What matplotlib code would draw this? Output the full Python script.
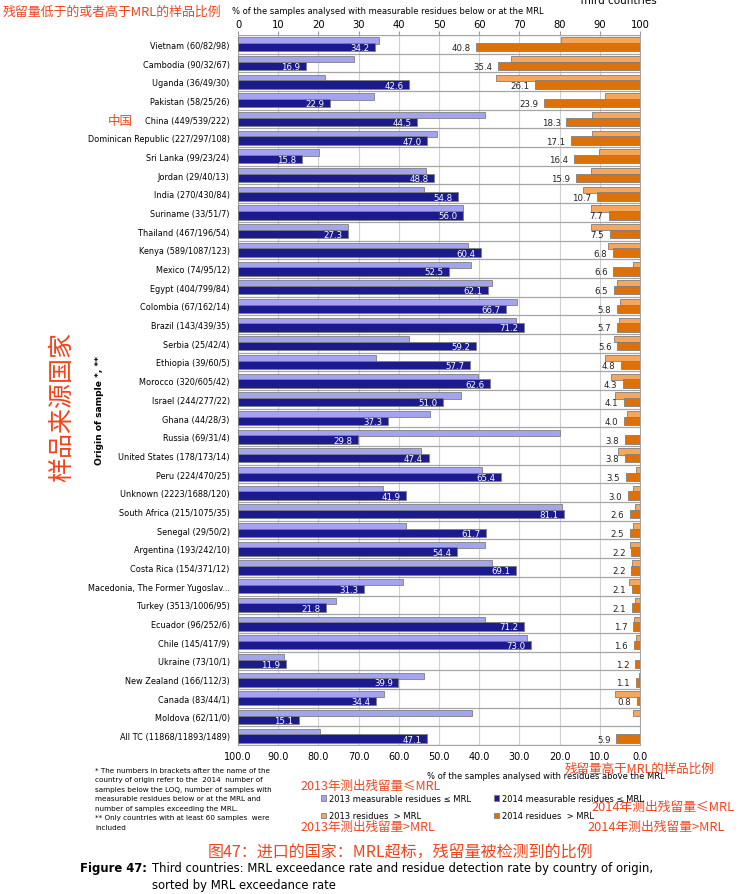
import numpy as np
import matplotlib.pyplot as plt
from matplotlib.ticker import FormatStrFormatter

LIGHT_BLUE = '#a3a3f0'
DARK_BLUE = '#1b1b8f'
LIGHT_ORANGE = '#f7a75c'
DARK_ORANGE = '#de7008'
BAR_EDGE = '#7f7f7f'
GRID_H = '#a6a6a6'
GRID_V = '#cfcfcf'
RED = '#f2441d'
CJK = ['Noto Sans CJK SC', 'DejaVu Sans']

countries = [
    'Vietnam (60/82/98)', 'Cambodia (90/32/67)', 'Uganda (36/49/30)',
    'Pakistan (58/25/26)', 'China (449/539/222)',
    'Dominican Republic (227/297/108)', 'Sri Lanka (99/23/24)',
    'Jordan (29/40/13)', 'India (270/430/84)', 'Suriname (33/51/7)',
    'Thailand (467/196/54)', 'Kenya (589/1087/123)', 'Mexico (74/95/12)',
    'Egypt (404/799/84)', 'Colombia (67/162/14)', 'Brazil (143/439/35)',
    'Serbia (25/42/4)', 'Ethiopia (39/60/5)', 'Morocco (320/605/42)',
    'Israel (244/277/22)', 'Ghana (44/28/3)', 'Russia (69/31/4)',
    'United States (178/173/14)', 'Peru (224/470/25)',
    'Unknown (2223/1688/120)', 'South Africa (215/1075/35)',
    'Senegal (29/50/2)', 'Argentina (193/242/10)', 'Costa Rica (154/371/12)',
    'Macedonia, The Former Yugoslav...', 'Turkey (3513/1006/95)',
    'Ecuador (96/252/6)', 'Chile (145/417/9)', 'Ukraine (73/10/1)',
    'New Zealand (166/112/3)', 'Canada (83/44/1)', 'Moldova (62/11/0)',
    'All TC (11868/11893/1489)',
]

# % measurable residues <= MRL
meas_2013 = [35.1, 28.9, 21.6, 33.8, 61.4, 49.5, 20.2, 46.7, 46.2, 56.0,
             27.4, 57.3, 57.9, 63.1, 69.4, 69.1, 42.5, 34.3, 59.6, 55.4,
             47.8, 80.0, 45.4, 60.7, 36.1, 80.5, 41.7, 61.5, 63.3, 41.0,
             24.5, 61.4, 71.8, 11.4, 46.2, 36.4, 58.2, 20.3]
meas_2014 = [34.2, 16.9, 42.6, 22.9, 44.5, 47.0, 15.8, 48.8, 54.8, 56.0,
             27.3, 60.4, 52.5, 62.1, 66.7, 71.2, 59.2, 57.7, 62.6, 51.0,
             37.3, 29.8, 47.4, 65.4, 41.9, 81.1, 61.7, 54.4, 69.1, 31.3,
             21.8, 71.2, 73.0, 11.9, 39.9, 34.4, 15.1, 47.1]

# % residues > MRL
exc_2013 = [19.7, 32.0, 35.7, 8.8, 11.9, 11.9, 10.1, 12.2, 14.1, 12.2,
            12.3, 7.9, 1.7, 5.6, 4.9, 5.3, 6.4, 8.8, 7.1, 6.1,
            3.3, 0.0, 5.5, 1.0, 1.7, 1.2, 1.7, 2.6, 2.0, 2.7,
            1.2, 1.5, 1.0, 0.0, 0.3, 6.2, 1.7, 0.0]
exc_2014 = [40.8, 35.4, 26.1, 23.9, 18.3, 17.1, 16.4, 15.9, 10.7, 7.7,
            7.5, 6.8, 6.6, 6.5, 5.8, 5.7, 5.6, 4.8, 4.3, 4.1,
            4.0, 3.8, 3.8, 3.5, 3.0, 2.6, 2.5, 2.2, 2.2, 2.1,
            2.1, 1.7, 1.6, 1.2, 1.1, 0.8, 0.0, 5.9]

top_ticks = list(range(0, 101, 10))


def px(x, y):
    """pixel position -> figure fraction"""
    return x / 750, 1 - y / 895


fig = plt.figure(figsize=(7.5, 8.95), dpi=100)
fig.patch.set_facecolor('white')
ax = fig.add_axes([238 / 750, 1 - 746 / 895, 402 / 750, 710 / 895])

n = len(countries)
y = np.arange(n)
m13 = np.array(meas_2013)
m14 = np.array(meas_2014)
e13 = np.array(exc_2013)
e14 = np.array(exc_2014)

off_top, h_top = -0.21, 0.33
off_bot, h_bot = 0.15, 0.45

b1 = ax.barh(y + off_top, m13, height=h_top, color=LIGHT_BLUE,
             edgecolor=BAR_EDGE, linewidth=0.6, zorder=3,
             label='2013 measurable residues \u2264 MRL')
b2 = ax.barh(y + off_bot, m14, height=h_bot, color=DARK_BLUE,
             edgecolor=BAR_EDGE, linewidth=0.6, zorder=4,
             label='2014 measurable residues \u2264 MRL')
k = e13 > 0
b3 = ax.barh(y[k] + off_top, e13[k], left=100 - e13[k], height=h_top,
             color=LIGHT_ORANGE, edgecolor=BAR_EDGE, linewidth=0.6, zorder=3,
             label='2013 residues  > MRL')
k = e14 > 0
b4 = ax.barh(y[k] + off_bot, e14[k], left=100 - e14[k], height=h_bot,
             color=DARK_ORANGE, edgecolor=BAR_EDGE, linewidth=0.6, zorder=4,
             label='2014 residues  > MRL')

# value labels
for i in range(n):
    ax.text(m14[i] - 1.4, i + off_bot + 0.03, f'{m14[i]:.1f}', ha='right',
            va='center', color='white', fontsize=6.2, zorder=6)
    if e14[i] > 0:
        ax.text(100 - e14[i] - 1.4, i + off_bot + 0.03, f'{e14[i]:.1f}',
                ha='right', va='center', color='#222222', fontsize=6.2,
                zorder=6)

ax.set_xlim(0, 100)
ax.set_ylim(n - 0.5, -0.5)
ax.set_yticks(y, countries, fontsize=5.9)
ax.set_yticks(np.arange(n + 1) - 0.5, minor=True)
ax.tick_params(axis='y', which='both', length=0, pad=6)
ax.grid(axis='y', which='minor', color=GRID_H, linewidth=0.9)
ax.grid(axis='x', which='major', color=GRID_V, linewidth=0.8)
ax.set_axisbelow(True)

ax.xaxis.tick_top()
ax.set_xticks(top_ticks)
ax.tick_params(axis='x', labelsize=7.2, length=3, color='#999999', pad=1.5)
for s in ax.spines.values():
    s.set_color('#a6a6a6')
    s.set_linewidth(0.8)

sec = ax.secondary_xaxis('bottom', functions=(lambda v: 100 - v, lambda v: 100 - v))
sec.set_xticks(top_ticks[::-1])
sec.xaxis.set_major_formatter(FormatStrFormatter('%.1f'))
sec.tick_params(labelsize=7, length=0, pad=4)
sec.spines['bottom'].set_visible(False)

# axis titles
fig.text(*px(232, 11), '% of the samples analysed with measurable residues below or at the MRL',
         fontsize=6.0, ha='left', va='center')
fig.text(*px(546, 777), '% of the samples analysed with residues above the MRL',
         fontsize=6.0, ha='center', va='center')
fig.text(*px(99, 411), 'Origin of sample *, **', rotation=90, fontsize=6.6,
         fontweight='bold', ha='center', va='center')
fig.text(*px(617, 1), 'Third countries', fontsize=7.5, ha='center', va='center')

# legend
fig.legend(handles=[b1, b3, b2, b4], loc='upper left',
           bbox_to_anchor=px(321, 795), ncol=2, frameon=False, fontsize=6.0,
           handlelength=0.6, handleheight=0.6, handletextpad=0.4,
           columnspacing=2.7, labelspacing=1.0, borderpad=0, borderaxespad=0)

# footnote
note = ('* The numbers in brackets after the name of the\n'
        'country of origin refer to the  2014  number of\n'
        'samples below the LOQ, number of samples with\n'
        'measurable residues below or at the MRL and\n'
        'number of samples exceeding the MRL.\n'
        '** Only countries with at least 60 samples  were\n'
        'included')
fig.text(*px(95, 768), note, fontsize=5.2, ha='left', va='top', linespacing=1.7)

# caption
fig.text(*px(80, 869), 'Figure 47:', fontsize=8.4, fontweight='bold',
         ha='left', va='center')
fig.text(*px(152, 869), 'Third countries: MRL exceedance rate and residue detection rate by country of origin,',
         fontsize=8.4, ha='left', va='center')
fig.text(*px(152, 886), 'sorted by MRL exceedance rate', fontsize=8.4,
         ha='left', va='center')

# red Chinese notes
fig.text(*px(3, 12), '残留量低于的或者高于MRL的样品比例', color=RED, fontsize=9.3,
         family=CJK, ha='left', va='center')
fig.text(*px(108, 121), '中国', color=RED, fontsize=9, family=CJK,
         ha='left', va='center')
fig.text(*px(62, 407), '样品来源国家', color=RED, fontsize=18, family=CJK,
         rotation=90, ha='center', va='center')
fig.text(*px(565, 769), '残留量高于MRL的样品比例', color=RED, fontsize=9,
         family=CJK, ha='left', va='center')
fig.text(*px(300, 786), '2013年测出残留量≤MRL', color=RED, fontsize=9,
         family=CJK, ha='left', va='center')
fig.text(*px(591, 807), '2014年测出残留量≤MRL', color=RED, fontsize=9.2,
         family=CJK, ha='left', va='center')
fig.text(*px(300, 827), '2013年测出残留量>MRL', color=RED, fontsize=9,
         family=CJK, ha='left', va='center')
fig.text(*px(587, 827), '2014年测出残留量>MRL', color=RED, fontsize=9.2,
         family=CJK, ha='left', va='center')
fig.text(*px(208, 853), '图47：进口的国家：MRL超标，残留量被检测到的比例', color=RED,
         fontsize=11.5, family=CJK, ha='left', va='center')

fig.savefig('out.png', dpi=100)
